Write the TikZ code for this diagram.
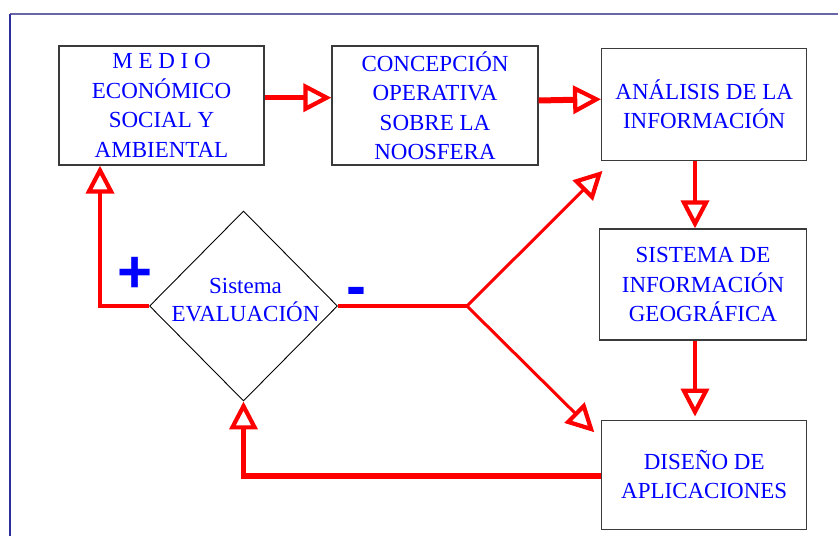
\documentclass[tikz,border=0pt]{standalone}
\usepackage{fontspec}
\setmainfont{Liberation Serif}
\newfontfamily\signfont{Liberation Sans}
\usetikzlibrary{arrows.meta,shapes.geometric,calc}
\definecolor{frametop}{HTML}{6666A8}
\definecolor{frameleft}{HTML}{2E2E9A}
\definecolor{boxgray}{HTML}{3A3A3A}
\begin{document}
\begin{tikzpicture}[x=1pt,y=-1pt,
  box/.style={draw=boxgray, line width=1.3pt, rectangle, inner sep=0pt, align=center,
    text=blue, font=\fontsize{23}{29.5}\selectfont},
  decision/.style={draw=black, line width=0.9pt, diamond, inner sep=0pt},
  evtxt/.style={text=blue, align=center, font=\fontsize{23}{28.7}\selectfont},
  sign/.style={text=blue, inner sep=0pt, font=\signfont\bfseries\fontsize{60}{60}\selectfont},
  flow/.style={draw=red, line width=#1,
    -{Triangle[open, length=28pt, width=28pt, line width=4.2pt]}},
  flow/.default=4.6pt,
  plain/.style={draw=red, line width=#1}
]
\useasboundingbox (0,0) rectangle (838,536);
\fill[white] (0,0) rectangle (838,536);
% frame
\draw[frametop, line width=1.3pt] (10,14) -- (838,14);
\draw[frameleft, line width=1.3pt] (10,14) -- (10,536);

% boxes
\node[box, minimum width=205pt, minimum height=119pt] (m1) at (161.5,105.5)
  {M E D I O\\ECONÓMICO\\SOCIAL Y\\AMBIENTAL};
\node[box, minimum width=206pt, minimum height=119pt] (m2) at (435,105.5)
  {CONCEPCIÓN\\OPERATIVA\\SOBRE LA\\NOOSFERA};
\node[box, minimum width=205pt, minimum height=112pt] (m3) at (704.2,104.2)
  {ANÁLISIS DE LA\\INFORMACIÓN};
\node[box, minimum width=207pt, minimum height=111pt] (m4) at (703,284.5)
  {SISTEMA DE\\INFORMACIÓN\\GEOGRÁFICA};
\node[box, minimum width=205pt, minimum height=109pt] (m5) at (704.2,474.7)
  {DISEÑO DE\\APLICACIONES};

% decision
\node[decision, minimum width=188pt, minimum height=190pt] (ev) at (243.5,306) {};
\node[evtxt] (evt) at (245.5,300) {Sistema\\EVALUACIÓN};

% signs
\node[sign] (plus) at (135,275) {+};
\node[sign] (minus) at (356,297) {-};

% connectors
\draw[flow] ([yshift=7.8pt]m1.east) -- ([yshift=7.8pt]m2.west);
\draw[flow=6pt] ([yshift=5pt]m2.east) -- ([yshift=5pt]m3.west);
\draw[flow] ([xshift=-9.2pt]m3.south) -- ([xshift=-9.2pt]m3.south |- m4.north);
\draw[flow, shorten >=3pt] ([xshift=-8pt]m4.south) -- ([xshift=-8pt]m4.south |- m5.north);
\draw[flow=5.6pt] ([yshift=-1.3pt]m5.west) -| (ev.south);
\draw[flow=3.6pt] (ev.west) -| ([xshift=-61.5pt]m1.south);
\coordinate (br) at ($(ev.east)+(129,0)$);
\draw[plain=4pt] (ev.east) -- (br);
\draw[flow=3pt] (br) -- ($(m3.south west)+(1.5,10)$);
\draw[flow=3pt] (br) -- ($(m5.north west)+(-6.7,12.7)$);
\end{tikzpicture}
\end{document}
